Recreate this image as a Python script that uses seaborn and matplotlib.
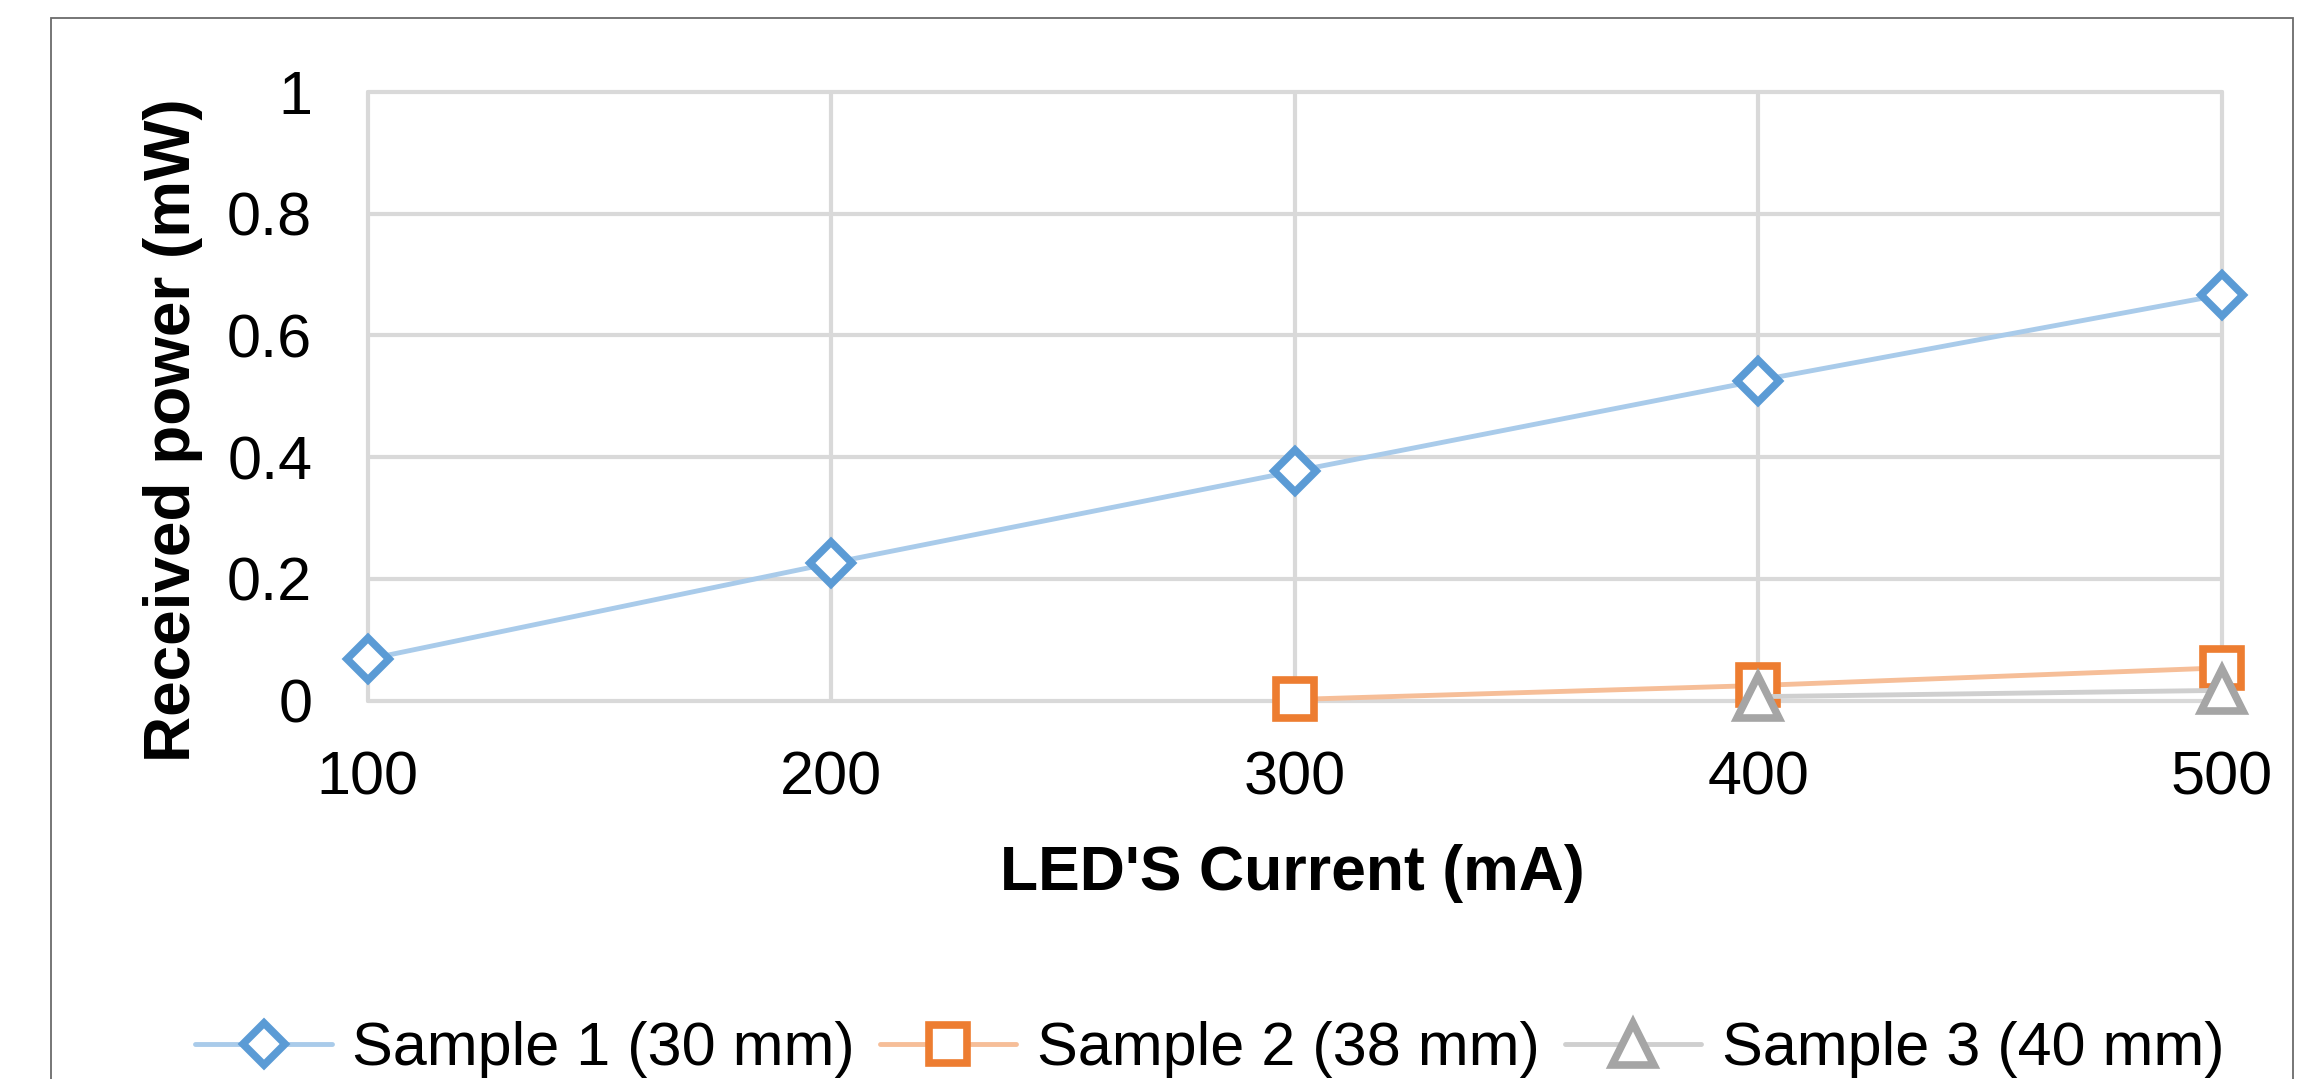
import matplotlib
matplotlib.use("Agg")
import matplotlib.pyplot as plt
import matplotlib.patches as mpatches
import seaborn as sns
import pandas as pd

# ---- data ----
current_ma = [100, 200, 300, 400, 500]
sample1_x = [100, 200, 300, 400, 500]
sample1_y = [0.068, 0.226, 0.377, 0.526, 0.667]
sample2_x = [300, 400, 500]
sample2_y = [0.002, 0.025, 0.054]
sample3_x = [400, 500]
sample3_y = [0.0066, 0.017]
series_names = ["Sample 1 (30 mm)", "Sample 2 (38 mm)", "Sample 3 (40 mm)"]
y_ticks = [0, 0.2, 0.4, 0.6, 0.8, 1.0]
y_tick_labels = ["0", "0.2", "0.4", "0.6", "0.8", "1"]
x_label = "LED'S Current (mA)"
y_label = "Received power (mW)"

sns.set_style("white")
plt.rcParams["font.family"] = ["Liberation Sans", "DejaVu Sans"]
plt.rcParams["text.color"] = "black"
plt.rcParams["axes.labelcolor"] = "black"

W, H = 2323, 1079
fig = plt.figure(figsize=(W / 100, H / 100), dpi=100)
ax = fig.add_axes([367.7 / W, 1 - 700.7 / H, (2222 - 367.7) / W, (700.7 - 92) / H])

styles = [
    dict(line="#A9CBEA", edge="#5B9BD5", marker="D", ms=21),
    dict(line="#F6BE98", edge="#ED7D31", marker="s", ms=28),
    dict(line="#CFCFCF", edge="#A5A5A5", marker="^", ms=30),
]
xs = [sample1_x, sample2_x, sample3_x]
ys = [sample1_y, sample2_y, sample3_y]

for name, x, y, st in zip(series_names, xs, ys, styles):
    df = pd.DataFrame({"x": x, "y": y})
    sns.lineplot(data=df, x="x", y="y", ax=ax, color=st["line"], lw=3.5,
                 marker=st["marker"], markersize=st["ms"], markeredgecolor=st["edge"],
                 markerfacecolor="white", markeredgewidth=5.5, label=name,
                 errorbar=None, clip_on=False)

ax.set_xlim(100, 500)
ax.set_ylim(0, 1)
ax.set_xticks(current_ma)
ax.set_xticklabels([str(v) for v in current_ma])
ax.set_yticks(y_ticks)
ax.set_yticklabels(y_tick_labels)
ax.tick_params(axis="both", length=0, labelsize=44, colors="black")
ax.tick_params(axis="x", pad=36)
ax.tick_params(axis="y", pad=40)
for s in ax.spines.values():
    s.set_visible(False)
ax.grid(True, color="#D9D9D9", lw=3)
ax.set_axisbelow(True)
for gl in ax.get_xgridlines() + ax.get_ygridlines():
    gl.set_clip_on(False)

ax.set_xlabel(x_label, fontsize=45, fontweight="bold", va="baseline", color="black")
ax.xaxis.set_label_coords(0.4985, -0.311)
ax.set_ylabel(y_label, fontsize=46, fontweight="bold", va="center", color="black")
ax.yaxis.set_label_coords(-0.1052, 0.4447)

handles, labels = ax.get_legend_handles_labels()
if ax.get_legend() is not None:
    ax.get_legend().remove()
leg = fig.legend(handles, labels, loc="center", bbox_to_anchor=(1210 / W, 1 - 1050 / H),
                 ncol=3, frameon=False, fontsize=44, handlelength=2.23,
                 handletextpad=0.34, columnspacing=0.41, borderpad=0, borderaxespad=0)
for t in leg.get_texts():
    t.set_color("black")

border = mpatches.Rectangle((51 / W, -0.05), (2293 - 51) / W, (1 - 18 / H) + 0.05,
                            transform=fig.transFigure, fill=False,
                            edgecolor="#6b6b6b", lw=1.3, clip_on=False)
fig.patches.append(border)

fig.savefig("out.png", dpi=100)
